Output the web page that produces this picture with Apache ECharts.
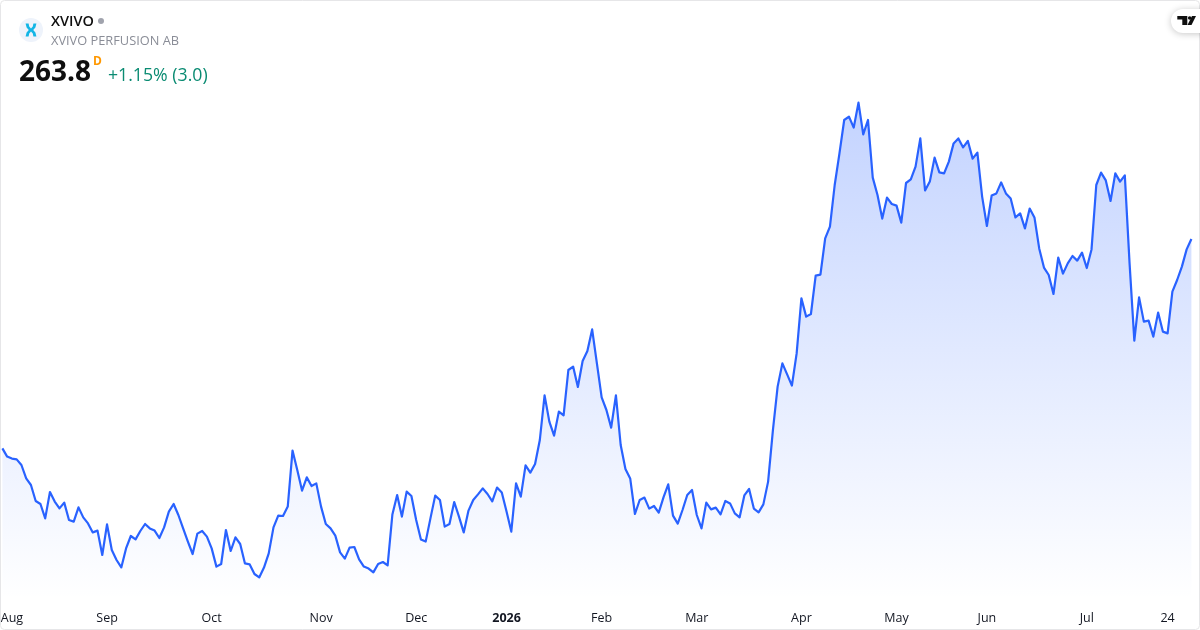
<!DOCTYPE html>
<html><head><meta charset="utf-8">
<style>html,body{margin:0;padding:0;background:#fff}#c{width:1200px;height:630px}</style>
<script src="https://cdn.jsdelivr.net/npm/echarts@6/dist/echarts.min.js"></script>
</head><body><div id="c"></div>
<script>
const symbol = 'XVIVO';
const companyName = 'XVIVO PERFUSION AB';
const lastPrice = '263.8';
const interval = 'D';
const changeText = '+1.15% (3.0)';
const tickLabels = ['Aug','Sep','Oct','Nov','Dec','2026','Feb','Mar','Apr','May','Jun','Jul','24'];
const tickIndexes = [2,22,44,67,87,106,126,146,168,188,207,228,245];
const pricesA = [159.1,155.0,154.0,153.6,150.8,144.1,140.8,132.8,131.3,124.1,137.3,132.5,129.1,132.0,123.3,122.5,129.6,124.6,121.6,117.1,118.0,105.8,121.1,108.3,103.3,99.6,109.1,115.3,113.6,117.8,121.3,119.1,118.0,114.3,119.6,127.5,131.3,125.8,119.1,112.5,106.3,116.5,117.8,115.0,109.1,100.0,101.3,118.3,107.8,114.6,111.3,101.6,101.1,96.3,94.6,99.5,106.6,119.6,125.5,125.3,130.0,158.0,148.3,138.0,144.6,140.3,141.6,130.0,121.3,119.1,115.5,107.1,104.0,109.5,109.8,103.6,100.0,99.0,97.1,101.3,102.3,100.6,126.1,135.8];
const pricesB = [125.0,137.5,135.3,123.3,113.6,112.5,124.1,135.5,133.3,120.0,121.3,132.3,125.0,117.1,128.0,133.3,136.1,139.1,136.3,132.6,139.5,137.0,127.5,117.5,141.6,135.0,150.6,147.0,151.3,163.3,185.6,172.5,165.5,177.5,175.6,198.3,200.0,189.8,202.8,207.8,218.6,201.6,184.6,178.3,169.5,185.6,160.8,148.8,144.1,126.3,133.3,134.5,129.0,130.3,127.0,134.6,141.1,125.5,121.5,128.3,135.8,138.3,125.8,119.1,132.0,128.6,129.5,126.1,132.8,131.6,126.6,124.6,135.6,138.8,129.0,127.1,131.1,142.5,168.0,190.0,201.6,196.1,190.5,206.6];
const pricesC = [234.1,225.0,226.3,245.5,246.0,264.1,270.0,290.8,306.6,323.3,325.0,319.5,332.0,316.1,323.3,294.5,285.8,274.0,284.5,281.3,280.5,272.0,291.8,293.6,300.0,314.1,288.1,292.5,304.5,297.1,296.6,302.5,311.6,314.1,309.6,312.8,304.0,307.0];
const pricesD = [285.0,270.3,285.5,286.6,292.1,286.6,284.0,274.6,276.6,269.1,279.0,274.6,259.1,249.5,245.8,236.3,254.5,246.5,251.6,255.3,253.0,257.0,249.3,258.6,290.8,297.0,293.1,282.8,296.6,292.5,295.6,251.6,213.0,234.6,222.5,223.0,215.0,227.0,217.5,216.6,237.5,243.3,250.0,258.6,263.8];
const prices = pricesA.concat(pricesB, pricesC, pricesD);
const categories = prices.map((_, i) => { const t = tickIndexes.indexOf(i); return t >= 0 ? tickLabels[t] : ''; });

const FONT = '"Open Sans","Noto Sans",sans-serif';
const chart = echarts.init(document.getElementById('c'), null, {renderer:'canvas'});
chart.setOption({
  animation:false,
  backgroundColor:'#ffffff',
  grid:{left:2.4, right:8.6, top:0, height:600, containLabel:false, outerBoundsMode:'none'},
  xAxis:{type:'category', boundaryGap:false, data:categories,
    axisLine:{show:false}, axisTick:{show:false}, splitLine:{show:false},
    axisLabel:{show:true, interval:(i)=>tickIndexes.includes(i), margin:12, fontFamily:FONT, fontSize:12.5,
      color:'#131722', hideOverlap:false, showMinLabel:true, showMaxLabel:true,
      formatter:(v)=> v==='2026' ? '{b|2026}' : v,
      rich:{b:{fontFamily:FONT, fontSize:12.5, fontWeight:'bold', color:'#131722'}}}},
  yAxis:{type:'value', min:83.3, max:383.3, show:false, scale:true},
  series:[{type:'line', data:prices, showSymbol:false, smooth:false,
    lineStyle:{color:'#2962FF', width:2.2, join:'round'},
    itemStyle:{color:'#2962FF'},
    areaStyle:{opacity:1, color:new echarts.graphic.LinearGradient(0,0,0,1,[
      {offset:0,color:'rgba(41,98,255,0.28)'},{offset:1,color:'rgba(41,98,255,0)'}])}}],
  graphic:[
    {type:'rect', silent:true, z:100, shape:{x:0.5,y:0.5,width:1199,height:629,r:4}, style:{fill:'none',stroke:'#e6e6e8',lineWidth:1}},
    {type:'circle', z:100, shape:{cx:31,cy:30,r:12}, style:{fill:'#eef3fb'}},
    {type:'polygon', z:101, shape:{points:[[25.6,23.6],[28.6,23.6],[29.2,26.5],[31,28.4],[32.8,26.5],[33.4,23.6],[36.4,23.6],[35.4,27.5],[33.2,30],[35.4,32.5],[36.4,36.6],[33.4,36.6],[32.8,33.5],[31,31.6],[29.2,33.5],[28.6,36.6],[25.6,36.6],[26.6,32.5],[28.8,30],[26.6,27.5]]}, style:{fill:'#12b5e6'}},
    {type:'text', z:101, style:{x:51,y:21.5,text:symbol,verticalAlign:'middle',font:'600 14.5px '+FONT,fill:'#0f0f0f'}},
    {type:'circle', z:101, shape:{cx:101,cy:21,r:3}, style:{fill:'#a0a3ad'}},
    {type:'text', z:101, style:{x:51,y:41,text:companyName,verticalAlign:'middle',font:'12.8px '+FONT,fill:'#8a8d97'}},
    {type:'text', z:101, style:{x:19,y:73.5,text:lastPrice,verticalAlign:'middle',font:'bold 28px '+FONT,fill:'#0f0f0f'}},
    {type:'text', z:101, style:{x:93,y:62,text:interval,verticalAlign:'middle',font:'bold 12px '+FONT,fill:'#ff9800'}},
    {type:'text', z:101, style:{x:108,y:75.5,text:changeText,verticalAlign:'middle',font:'17.7px '+FONT,fill:'#0a8b72'}},
    {type:'rect', z:101, shape:{x:1171,y:9,width:45,height:24,r:12}, style:{fill:'#fff',shadowBlur:7,shadowColor:'rgba(0,0,0,0.22)',shadowOffsetY:1}},
    {type:'polygon', z:102, shape:{points:[[1177.3,16],[1187.3,16],[1187.3,25],[1182.3,25],[1182.3,19.5],[1177.3,19.5]]}, style:{fill:'#0f0f0f'}},
    {type:'polygon', z:102, shape:{points:[[1192,16],[1196,16],[1191.5,25],[1187.5,25]]}, style:{fill:'#0f0f0f'}},
    {type:'circle', z:102, shape:{cx:1189.7,cy:18,r:1.8}, style:{fill:'#0f0f0f'}}
  ]
});
</script></body></html>
